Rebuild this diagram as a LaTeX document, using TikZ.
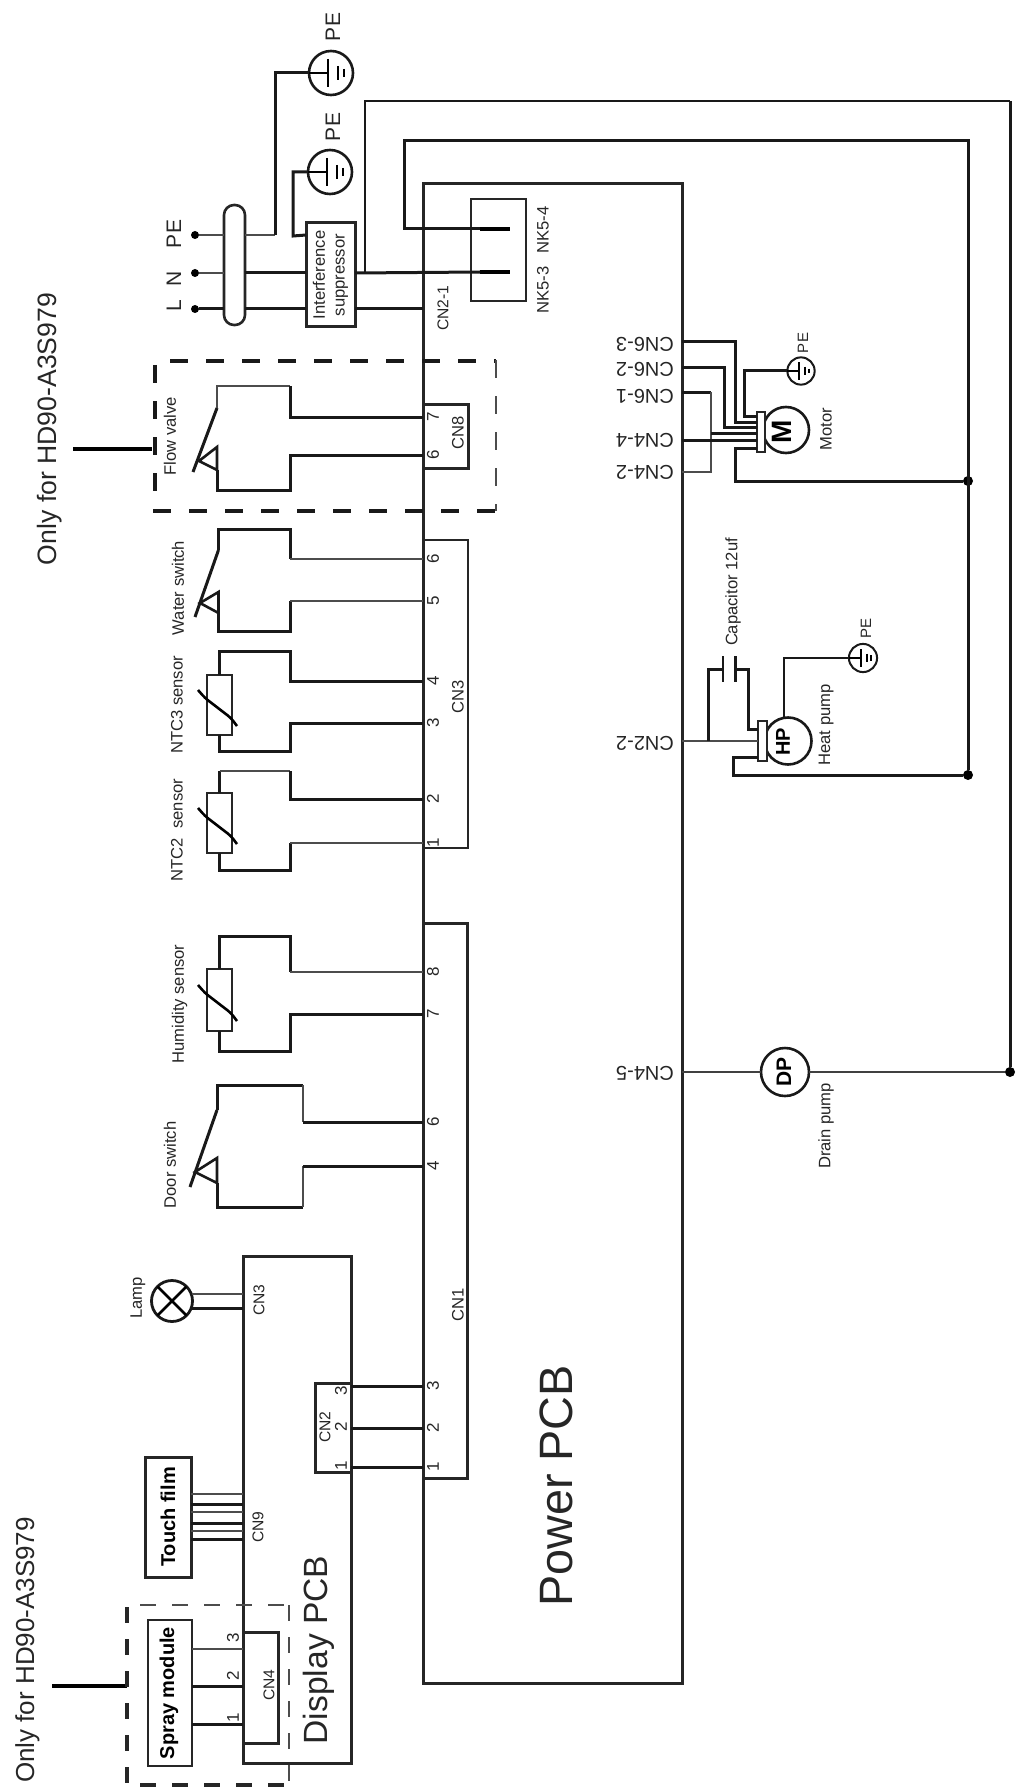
\documentclass[tikz,border=0pt]{standalone}
\usepackage{fontspec}
\setmainfont{Liberation Sans}
\usetikzlibrary{positioning,calc}

\newcommand{\fs}[1]{\fontsize{#1}{#1}\selectfont}

\begin{document}
\begin{tikzpicture}[
    x=0.5pt, y=-0.5pt,
    wire/.style={line width=1.5pt, black!90},
    fine/.style={line width=0.9pt, black!70},
    box/.style={rectangle, draw=black!85, line width=1.5pt, inner sep=0pt, outer sep=0pt},
    finebox/.style={box, line width=1.1pt},
    lab/.style={rotate=90, inner sep=0pt, text=black!85, font=\fs{8.3}},
    pinlab/.style={lab, font=\fs{8.5}},
    big/.style={lab, font=\fs{16.8}},
    only/.style={lab, font=\fs{13.3}},
    flip/.style={rotate=180, inner sep=0pt, text=black!85, font=\fs{10}},
    bold/.style={lab, text=black, font=\bfseries\fs{10}},
    pump/.style={circle, draw=black!90, line width=1.3pt, fill=white, minimum size=23.5pt, inner sep=0pt, outer sep=0pt},
    dot/.style={circle, fill=black, minimum size=#1, inner sep=0pt},
    dashbold/.style={line width=2pt, black!90, dash pattern=on 9pt off 9pt},
    dashfine/.style={line width=1pt, black!70, dash pattern=on 9pt off 9pt},
    sdashbold/.style={line width=1.8pt, black!85, dash pattern=on 8pt off 8pt},
    sdashfine/.style={line width=1pt, black!70, dash pattern=on 8pt off 8pt}
]
\useasboundingbox (0,0) rectangle (1021,1792);

% Boards
\node[box] (power) at (552.5,933.5) [minimum width=129.5pt, minimum height=749.5pt] {};
\node[box] (display) at (297,1509.5) [minimum width=54pt, minimum height=253.5pt] {};
\node[big, font=\fs{23.4}] (powerlab) at (556,1486) {Power PCB};
\node[big] (displaylab) at (319,1650) {Display PCB};

% Connectors on the power board
\node[box] (cneight) at (445.5,436) [minimum width=22.5pt, minimum height=32pt] {};
\node[finebox] (cnthree) at (445.5,694) [minimum width=22.5pt, minimum height=154pt] {};
\node[box] (cnone) at (445,1200.5) [minimum width=22pt, minimum height=277.5pt] {};
\node[finebox] (nkbox) at (498.5,250) [minimum width=27.5pt, minimum height=51pt] {};
\node[lab] (cneightlab) at (458,433) {CN8};
\node[lab] (cnthreelab) at (458,697) {CN3};
\node[lab] (cnonelab) at (458,1305) {CN1};
\node[lab, font=\fs{7.8}] (cntwolab) at (443,308) {CN2-1};
\node[lab] (nkfour) at (543,230) {NK5-4};
\node[lab] (nkthree) at (543,290) {NK5-3};

% Pins on the left edge of the power board
\foreach \name/\pin/\y in {cnea/7/417, cneb/6/455,
    ctf/6/559, cte/5/601, ctd/4/681, ctc/3/723, ctb/2/799, cta/1/843,
    coh/8/972, cog/7/1014, cof/6/1122, cod/4/1166, coc/3/1386, cob/2/1428, coa/1/1467} {
    \coordinate (\name) at (423,\y);
    \node[pinlab] (\name lab) at (433,\y) {\pin};
}

% Mains side
\foreach \name/\y in {dotpe/235, dotn/273, dotl/309} {
    \node[dot=4pt] (\name) at (195,\y) {};
}
\node[lab, font=\fs{10.5}] (pelab) at (174,234) {PE};
\node[lab, font=\fs{10.5}] (nlab) at (174,279) {N};
\node[lab, font=\fs{10.5}] (llab) at (174,306) {L};
\node[box, rounded corners=5pt, line width=1.3pt] (oval) at (234.5,265) [minimum width=10.5pt, minimum height=60pt] {};
\node[box, align=center, rotate=90, minimum width=52pt, minimum height=24.5pt,
    text=black!85, font=\fs{8.3}] (supp) at (330.5,275) {Interference\\[1.6pt]suppressor};
\coordinate (ovalpe) at (oval.east |- dotpe);
\coordinate (ovaln) at (oval.east |- dotn);
\coordinate (ovall) at (oval.east |- dotl);
\coordinate (suppn) at (supp.south |- dotn);
\coordinate (suppl) at (supp.south |- dotl);
\draw[fine] (dotpe) -- (oval.west |- dotpe);
\draw[fine] (dotn) -- (oval.west |- dotn);
\draw[wire] (dotl) -- (oval.west |- dotl);
\draw[fine] (ovalpe) -- (275,235);
\draw[wire] (ovaln) -- (supp.north |- dotn);
\draw[wire] (ovall) -- (supp.north |- dotl);

% Earth symbols
\foreach \name/\cx/\cy/\s/\w in {pea/331/73/1/1.3pt, peb/330/172/1/1.3pt, pec/801/371/.62/1pt, ped/863/658/.64/1pt} {
    \node[circle, draw=black!90, line width=\w, minimum size=22pt*\s, inner sep=0pt, outer sep=0pt] (\name) at (\cx,\cy) {};
    \begin{scope}[shift={(\cx,\cy)}, scale=\s]
        \draw[line width=\w] (-22,0) -- (-3,0);
        \draw[line width=\w] (-3,-14) -- (-3,14);
        \draw[line width=\w] (7,-7) -- (7,7);
        \draw[line width=\w] (13,-4) -- (13,4);
    \end{scope}
}
\node[lab, font=\fs{10.5}] (pealab) at (333,27) {PE};
\node[lab, font=\fs{10.5}] (peblab) at (333,127) {PE};
\node[lab, font=\fs{7.5}] (peclab) at (803,343) {PE};
\node[lab, font=\fs{7.5}] (pedlab) at (866,628) {PE};
\draw[wire] (275,235) |- (pea.west);
\draw[wire] (supp.north |- dotpe) -- (293,236) |- (peb.west);

% Long wires round the power board
\node[dot=5pt] (busa) at (968,481) {};
\node[dot=5pt] (busb) at (968,775) {};
\node[dot=5pt] (busc) at (1010,1072) {};
\coordinate (nka) at (480,229);
\coordinate (nkb) at (480,272);
\draw[wire] (suppn) -- (nkb);
\draw[line width=2.4pt] (nkb) -- (510,272);
\draw[wire] (suppl) -- (power.west |- suppl);
\draw[wire] (nka) -- (404,229) |- (968,141) -- (busb);
\draw[line width=2.4pt] (nka) -- (510,229);
\draw[wire, line width=1.2pt] (365,272) |- (1010,101);
\draw[wire] (1010,101) -- (busc);

% Flow valve, water switch, door switch
\foreach \name/\x/\ya/\xe/\ye/\yb/\xm/\ym/\yc in {
    flow/217/408/193/472/447/199/461/470,
    water/218.5/550/195/617/592/200/603/613,
    door/217/1110/190/1187/1158/195/1172/1183} {
    \coordinate (\name A) at (\x,\ya);
    \coordinate (\name B) at (\x,\yc);
    \draw[wire] (\x,\ya) -- (\xe,\ye);
    \draw[wire, line width=1.3pt] (\x,\yb) -- (\xm,\ym) -- (\x,\yc) -- cycle;
}
\node[lab] (flowlab) at (170,436) {Flow valve};
\node[lab] (waterlab) at (178,588) {Water switch};
\node[lab] (doorlab) at (170,1165) {Door switch};
\draw[fine] (flowA) |- (290,386);
\draw[wire] (290,386) |- (cnea);
\draw[wire] (flowB) |- (290,490) |- (cneb);
\draw[wire] (waterA) |- (290,529) -- (290,559);
\draw[fine] (290,559) -- (ctf);
\draw[wire] (waterB) |- (290,631) -- (290,601);
\draw[fine] (290,601) -- (cte);
\draw[wire] (doorA) |- (303,1085);
\draw[fine] (303,1085) -- (303,1122);
\draw[wire] (303,1122) -- (cof);
\draw[wire] (doorB) |- (303,1207);
\draw[fine] (303,1207) -- (303,1166);
\draw[wire] (303,1166) -- (cod);

% Sensors
\foreach \name/\cy/\h in {ntcthree/705/30pt, ntctwo/823/30pt, humid/1000/31pt} {
    \node[finebox, minimum width=12.5pt, minimum height=\h] (\name) at (219.5,\cy) {};
    \draw[line width=1.3pt, rounded corners=2pt] (198,\cy-15) -- (205,\cy-7) -- (231,\cy+13) -- (237,\cy+21);
}
\node[lab] (ntcthreelab) at (177,705) {NTC3 sensor};
\node[lab] (ntctwolab) at (177,830) {NTC2\ \ sensor};
\node[lab] (humidlab) at (179.5,1004) {Humidity sensor};
\draw[wire] (ntcthree.north) |- (290,651) |- (ctd);
\draw[wire] (ntcthree.south) |- (290,751) |- (ctc);
\draw[wire] (ntctwo.north) -- (219.5,771);
\draw[fine] (219.5,771) -- (290,771);
\draw[wire] (290,771) |- (ctb);
\draw[wire] (ntctwo.south) |- (290,870) -- (290,843);
\draw[fine] (290,843) -- (cta);
\draw[wire] (humid.north) |- (290,936) -- (290,972);
\draw[fine] (290,972) -- (coh);
\draw[wire] (humid.south) |- (290,1051) |- (cog);

% Only-for marks
\node[only] (onlya) at (50,429) {Only for HD90-A3S979};
\coordinate (markarma) at (152,449);
\draw[line width=1.6pt] (73,449) -- (markarma);
\node[only, font=\fs{13}] (onlyb) at (27.5,1650) {Only for HD90-A3S979};
\coordinate (markarmb) at (127,1686);
\draw[line width=1.6pt] (52,1686) -- (markarmb);

% Dashed frame of the flow valve
\draw[dashbold] (155,365) -- (155,511);
\draw[dashbold] (170,361) -- (496,361);
\draw[dashfine] (496,360) -- (496,511);
\draw[dashbold] (153,511) -- (496,511);

% Display board parts
\node[box] (dcntwo) at (333,1427.5) [minimum width=18pt, minimum height=44.5pt] {};
\node[box] (dcnfour) at (260.5,1687.5) [minimum width=17.5pt, minimum height=55.5pt] {};
\node[box] (touch) at (168,1517) [minimum width=23pt, minimum height=60pt] {};
\node[finebox] (spray) at (170,1693) [minimum width=22pt, minimum height=73pt] {};
\node[bold] (touchlab) at (168,1517) {Touch film};
\node[bold] (spraylab) at (169,1693) {Spray module};
\node[lab, font=\fs{7.8}] (dcntwolab) at (325,1427) {CN2};
\node[lab, font=\fs{7.8}] (dcnfourlab) at (269,1685) {CN4};
\node[lab, font=\fs{7.8}] (dcnthreelab) at (259,1300) {CN3};
\node[lab, font=\fs{7.8}] (dcnninelab) at (258,1527) {CN9};
\node[pinlab] (dthree) at (341,1391) {3};
\node[pinlab] (dtwo) at (341,1427) {2};
\node[pinlab] (done) at (341,1466) {1};
\node[pinlab] (sthree) at (233,1638) {3};
\node[pinlab] (stwo) at (233,1676) {2};
\node[pinlab] (sone) at (233,1718) {1};
\draw[wire] (coc) -- (display.east |- coc);
\draw[wire] (cob) -- (display.east |- cob);
\draw[wire] (coa) -- (display.east |- coa);
\foreach \y/\st in {1494/fine, 1504/wire, 1512/fine, 1523/wire, 1531/fine, 1539/wire} {
    \draw[\st] (touch.east |- 0,\y) -- (display.west |- 0,\y);
}
\foreach \y/\st in {1649/fine, 1686/wire, 1724/wire} {
    \draw[\st] (spray.east |- 0,\y) -- (display.west |- 0,\y);
}

% Lamp
\node[circle, draw=black!90, line width=1.4pt, minimum size=20.5pt, inner sep=0pt, outer sep=0pt] (lamp) at (172,1301) {};
\draw[line width=1.3pt] (lamp.45) -- (lamp.225) (lamp.135) -- (lamp.315);
\node[lab] (lamplab) at (138,1298) {Lamp};
\draw[fine] (lamp.east |- 0,1294) ++(-1,0) -- (display.west |- 0,1294);
\draw[wire] (lamp.east |- 0,1308) ++(-1,0) -- (display.west |- 0,1308);

% Dashed frame of the spray module
\draw[sdashbold] (127,1607) -- (127,1785);
\draw[sdashfine] (140,1605) -- (289,1605);
\draw[sdashfine] (289,1605) -- (289,1785);
\draw[sdashbold] (140,1785) -- (289,1785);

% Motor
\node[pump, minimum size=23pt] (motor) at (786,430) {};
\node[box, fill=white, line width=1.2pt] (mblock) at (761,432) [minimum width=4pt, minimum height=20pt] {};
\node[bold, font=\bfseries\fs{14}] (mlab) at (782,432) {M};
\node[lab] (motorlab) at (826,429) {Motor};
\foreach \name/\txt/\y in {csthree/CN6-3/344, cstwo/CN6-2/369, csone/CN6-1/396, cffour/CN4-4/440, cftwo/CN4-2/472,
    ctwotwo/CN2-2/743, cffive/CN4-5/1073} {
    \node[flip] (\name) at (645,\y) {\txt};
}
\draw[wire] (682,342) -| (735,422) -- (mblock.west |- 0,422);
\draw[wire] (682,368) -| (724,427) -- (mblock.west |- 0,427);
\draw[wire] (682,392) -- (711,392);
\draw[fine] (711,392) -- (711,472) -- (682,472);
\draw[wire] (711,433) -- (mblock.west |- 0,433);
\draw[wire] (682,440) -- (mblock.west |- 0,440);
\draw[wire] (mblock.west |- 0,448) -| (735,481) -- (busa);
\draw[wire] (mblock.west |- 0,416) -| (744,371) -- (pec.west);

% Heat pump
\node[pump] (hp) at (788,741) {};
\node[box, fill=white, line width=1.2pt] (hblock) at (762.5,741) [minimum width=4.5pt, minimum height=20pt] {};
\node[bold] (hplab) at (783,742) {HP};
\node[lab] (hpname) at (826,725) {Heat pump};
\coordinate (capa) at (723,669);
\coordinate (capb) at (735,669);
\draw[wire, line width=1.2pt] (723,656) -- (723,682);
\draw[wire] (735,656) -- (735,682);
\node[lab] (caplab) at (733,592) {Capacitor 12uf};
\draw[fine] (682,741) -- (hblock.west);
\draw[wire] (708,741) |- (capa);
\draw[wire] (capb) -| (748,729) -- (hblock.west |- 0,729);
\draw[wire] (hblock.west |- 0,757) -| (733,775) -- (busb);
\draw[wire, line width=1.2pt] (784,717) |- (ped.west);

% Drain pump
\node[pump, minimum size=24pt] (dp) at (785,1072) {};
\node[bold, font=\bfseries\fs{10.5}] (dplab) at (784,1072) {DP};
\node[lab] (dpname) at (826,1126) {Drain pump};
\draw[wire, line width=1.1pt, black!75] (682,1072) -- (dp.west);
\draw[wire, line width=1.1pt, black!75] (dp.east) -- (busc);

\end{tikzpicture}
\end{document}
